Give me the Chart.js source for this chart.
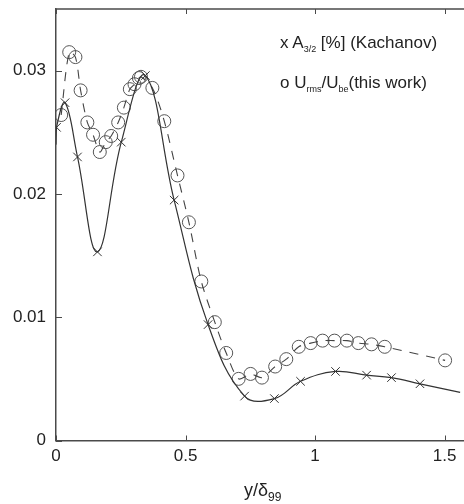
<!DOCTYPE html>
<html lang="en">
<head>
  <meta charset="UTF-8">
  <title>Kachanov vs this work</title>
  <script src="https://cdn.jsdelivr.net/npm/chart.js"></script>
  <style>
    html, body { margin: 0; padding: 0; background: #fff; overflow: hidden; }
    body { width: 464px; height: 504px; position: relative; font-family: "Liberation Sans", Arial, sans-serif; color: #222; }
    .wrap { position: absolute; left: 0; top: 0; width: 478px; height: 504px; }
    .lbl { position: absolute; font-size: 17px; white-space: nowrap; line-height: 1; }
    .lbl sub { font-size: 9px; vertical-align: -4px; }
    .xtitle { font-size: 18px; }
    .xtitle sub { font-size: 12px; vertical-align: -5px; }
  </style>
</head>
<body>
  <div class="wrap"><canvas id="chart"></canvas></div>
  <div class="lbl" style="left:280px; top:34px;">x A<sub>3/2</sub> [%] (Kachanov)</div>
  <div class="lbl" style="left:280px; top:74px;">o U<sub>rms</sub>/U<sub>be</sub>(this work)</div>
  <div class="lbl xtitle" style="left:244px; top:481px;">y/&delta;<sub>99</sub></div>

  <script>
    // Kachanov A_3/2 markers
    const kachanovX = [0.002, 0.035, 0.083, 0.160, 0.252, 0.345, 0.456, 0.587, 0.728, 0.843, 0.944, 1.079, 1.199, 1.295, 1.405];
    const kachanovY = [0.0254, 0.0274, 0.0230, 0.0153, 0.0242, 0.0296, 0.0195, 0.0094, 0.0036, 0.0034, 0.0048, 0.0056, 0.0053, 0.0051, 0.0046];
    // where the solid curve meets the left and right edges
    const curveStart = [0, 0.0240];
    const curveEnd = [1.56, 0.0039];

    // this work U_rms/U_be
    const workX = [0.020, 0.051, 0.075, 0.095, 0.121, 0.143, 0.169, 0.192, 0.213, 0.240, 0.262, 0.285, 0.303, 0.320, 0.328,
                   0.372, 0.418, 0.469, 0.513, 0.561, 0.613, 0.657, 0.705, 0.751, 0.795, 0.846, 0.889, 0.937, 0.983,
                   1.029, 1.075, 1.123, 1.167, 1.218, 1.269, 1.502];
    const workY = [0.0264, 0.0315, 0.0311, 0.0284, 0.0258, 0.0248, 0.0234, 0.0242, 0.0247, 0.0258, 0.0270, 0.0285, 0.0289, 0.0294, 0.0295,
                   0.0286, 0.0259, 0.0215, 0.0177, 0.0129, 0.0096, 0.0071, 0.0050, 0.0054, 0.0051, 0.0060, 0.0066, 0.0076, 0.0079,
                   0.0081, 0.0081, 0.0081, 0.0079, 0.0078, 0.0076, 0.0065];

    const xTicks = [0, 0.5, 1, 1.5];
    const yTicks = [0, 0.01, 0.02, 0.03];

    const toPts = (xs, ys) => xs.map((x, i) => ({ x: x, y: ys[i] }));
    const kachanovPts = toPts(kachanovX, kachanovY);
    const curvePts = [{ x: curveStart[0], y: curveStart[1] }, ...kachanovPts, { x: curveEnd[0], y: curveEnd[1] }];
    const workPts = toPts(workX, workY);

    const axisColor = '#4a4a4a';

    // frame top line and inward ticks
    const framePlugin = {
      id: 'frame',
      afterDraw(chart) {
        const { ctx, chartArea: a, scales } = chart;
        ctx.save();
        ctx.strokeStyle = axisColor;
        ctx.lineWidth = 1.5;
        ctx.beginPath();
        ctx.moveTo(a.left, a.top);
        ctx.lineTo(a.right + 10, a.top);
        ctx.stroke();
        ctx.lineWidth = 1;
        ctx.beginPath();
        xTicks.forEach(v => {
          const px = Math.round(scales.x.getPixelForValue(v)) + 0.5;
          ctx.moveTo(px, a.bottom); ctx.lineTo(px, a.bottom - 5);
          ctx.moveTo(px, a.top); ctx.lineTo(px, a.top + 5);
        });
        yTicks.forEach(v => {
          const py = Math.round(scales.y.getPixelForValue(v)) + 0.5;
          ctx.moveTo(a.left, py); ctx.lineTo(a.left + 6, py);
        });
        ctx.stroke();
        ctx.restore();
      }
    };

    new Chart(document.getElementById('chart'), {
      type: 'scatter',
      data: {
        datasets: [
          {
            data: curvePts,
            showLine: true,
            borderColor: '#333',
            borderWidth: 1.2,
            pointRadius: 0,
            tension: 0.4
          },
          {
            data: kachanovPts,
            showLine: false,
            pointStyle: 'crossRot',
            pointRadius: 6,
            borderColor: '#333',
            borderWidth: 1
          },
          {
            data: workPts,
            showLine: true,
            borderColor: '#444',
            borderWidth: 1.1,
            borderDash: [9, 8],
            pointRadius: 0,
            tension: 0.3
          },
          {
            data: workPts,
            showLine: false,
            pointStyle: 'circle',
            pointRadius: 6.5,
            backgroundColor: 'rgba(0,0,0,0)',
            borderColor: '#555',
            borderWidth: 1
          }
        ]
      },
      options: {
        responsive: true,
        maintainAspectRatio: false,
        animation: false,
        layout: { padding: { top: 9, right: 4, left: 0, bottom: 0 } },
        plugins: {
          legend: { display: false },
          tooltip: { enabled: false }
        },
        scales: {
          x: {
            type: 'linear',
            min: 0,
            max: 1.6,
            afterFit: s => { s.height = 63.5; },
            afterBuildTicks: s => { s.ticks = xTicks.map(v => ({ value: v })); },
            grid: { drawOnChartArea: false, drawTicks: false },
            border: { color: axisColor, width: 1.5 },
            ticks: {
              padding: 6,
              color: '#222',
              font: { family: 'Liberation Sans', size: 17 },
              callback: v => String(v)
            }
          },
          y: {
            type: 'linear',
            min: 0,
            max: 0.035,
            afterFit: s => { s.width = 56; s.paddingTop = 0; s.paddingBottom = 0; },
            afterBuildTicks: s => { s.ticks = yTicks.map(v => ({ value: v })); },
            grid: { drawOnChartArea: false, drawTicks: false },
            border: { color: axisColor, width: 1.5 },
            ticks: {
              padding: 10,
              color: '#222',
              font: { family: 'Liberation Sans', size: 17 },
              callback: v => String(v)
            }
          }
        }
      },
      plugins: [framePlugin]
    });
  </script>
</body>
</html>
